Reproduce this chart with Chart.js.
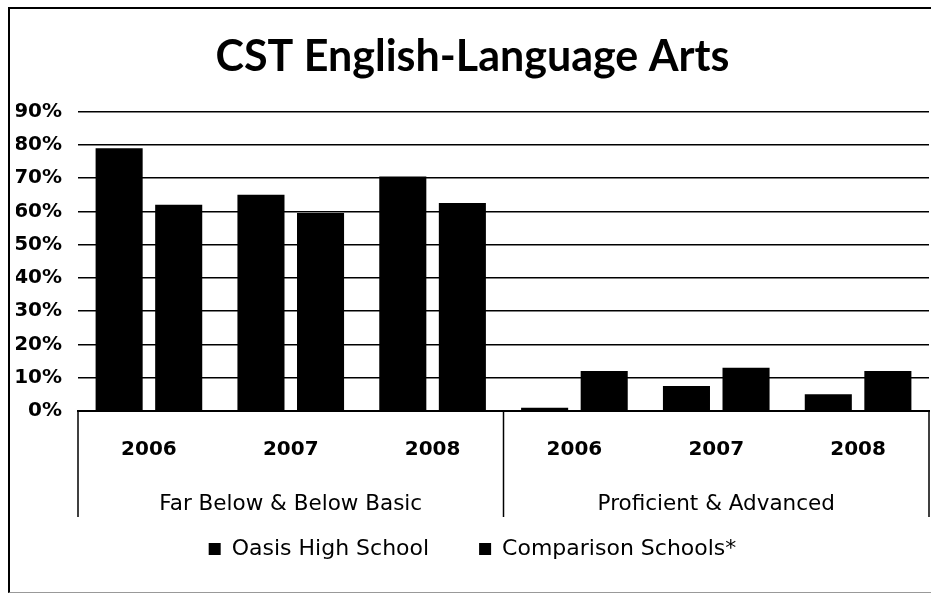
<!DOCTYPE html>
<html>
<head>
<meta charset="utf-8">
<script src="https://cdn.jsdelivr.net/npm/chart.js@4.4.1/dist/chart.umd.min.js"></script>
<style>
  html, body { margin: 0; padding: 0; background: #fff; }
  #wrap { position: relative; width: 931px; height: 596px; overflow: hidden; }
  #frame { position: absolute; left: 8px; top: 7px; width: 940px; height: 586px;
           border-left: 2px solid #000; border-top: 2px solid #000; border-bottom: 1px solid #999; box-sizing: border-box; }
  canvas { position: absolute; left: 0; top: 0; }
</style>
</head>
<body>
<div id="wrap">
  <canvas id="c" width="931" height="596"></canvas>
  <div id="frame"></div>
</div>
<script>
const years = ['2006', '2007', '2008', '2006', '2007', '2008'];
const groups = ['Far Below & Below Basic', 'Proficient & Advanced'];
const seriesNames = ['Oasis High School', 'Comparison Schools*'];
const oasis = [79, 65, 70.5, 1, 7.5, 5];
const comparison = [62, 59.5, 62.5, 12, 13, 12];
const yTicks = [0, 10, 20, 30, 40, 50, 60, 70, 80, 90];

const TITLE_FONT = 'Lato, "Open Sans", sans-serif';
const FONT = '"DejaVu Sans", sans-serif';

const separators = {
  id: 'separators',
  afterDraw(chart) {
    const xs = chart.scales.x;
    const ctx = chart.ctx;
    const w = (xs.getPixelForValue(1) - xs.getPixelForValue(0));
    const top = chart.chartArea.bottom;
    const bottom = xs.bottom + 30;
    ctx.save();
    ctx.strokeStyle = '#000';
    ctx.lineWidth = 1.5;
    [0, 3, 6].forEach(i => {
      let px = xs.getPixelForValue(0) + (i - 0.5) * w;
      if (i === 6) px = Math.min(px, chart.width - 2);
      ctx.beginPath();
      ctx.moveTo(px, top);
      ctx.lineTo(px, bottom);
      ctx.stroke();
    });
    ctx.restore();
  }
};

new Chart(document.getElementById('c'), {
  type: 'bar',
  data: {
    labels: years,
    datasets: [
      { label: seriesNames[0], data: oasis, backgroundColor: '#000', borderWidth: 0 },
      { label: seriesNames[1], data: comparison, backgroundColor: '#000', borderWidth: 0 }
    ]
  },
  options: {
    responsive: false,
    animation: false,
    devicePixelRatio: 1,
    categoryPercentage: 0.84,
    barPercentage: 0.79,
    layout: { padding: { left: 16, right: 2, top: 20, bottom: 26 } },
    plugins: {
      title: {
        display: true,
        text: 'CST English-Language Arts',
        color: '#000',
        font: { family: TITLE_FONT, size: 43, weight: 'bold' },
        padding: { top: 11, bottom: 29 }
      },
      legend: {
        display: true,
        position: 'bottom',
        labels: {
          color: '#000',
          font: { family: FONT, size: 22 },
          boxWidth: 12,
          boxHeight: 12,
          padding: 50
        }
      },
      tooltip: { enabled: false }
    },
    scales: {
      x: {
        type: 'category',
        grid: { display: false, drawTicks: false },
        border: { display: true, color: '#000', width: 2 },
        ticks: { color: '#000', font: { family: FONT, size: 20, weight: 'bold' }, padding: 27, maxRotation: 0, autoSkip: false },
        afterFit(scale) { scale.height = 76; }
      },
      x2: {
        type: 'category',
        labels: groups,
        position: 'bottom',
        grid: { display: false, drawTicks: false },
        border: { display: false },
        ticks: { color: '#000', font: { family: FONT, size: 21.5 }, mirror: true, padding: -30, maxRotation: 0, autoSkip: false },
        afterFit(scale) { scale.height = 1; }
      },
      y: {
        min: 0,
        max: 90,
        afterFit(scale) { scale.width = 62; },
        afterBuildTicks(scale) { scale.ticks = yTicks.map(v => ({ value: v })); },
        grid: { color: '#000', lineWidth: 1.5, drawTicks: false },
        border: { display: false },
        ticks: {
          color: '#000',
          autoSkip: false,
          font: { family: FONT, size: 20, weight: 'bold' },
          padding: 16,
          callback: v => v + '%'
        }
      }
    }
  },
  plugins: [separators]
});
</script>
</body>
</html>
